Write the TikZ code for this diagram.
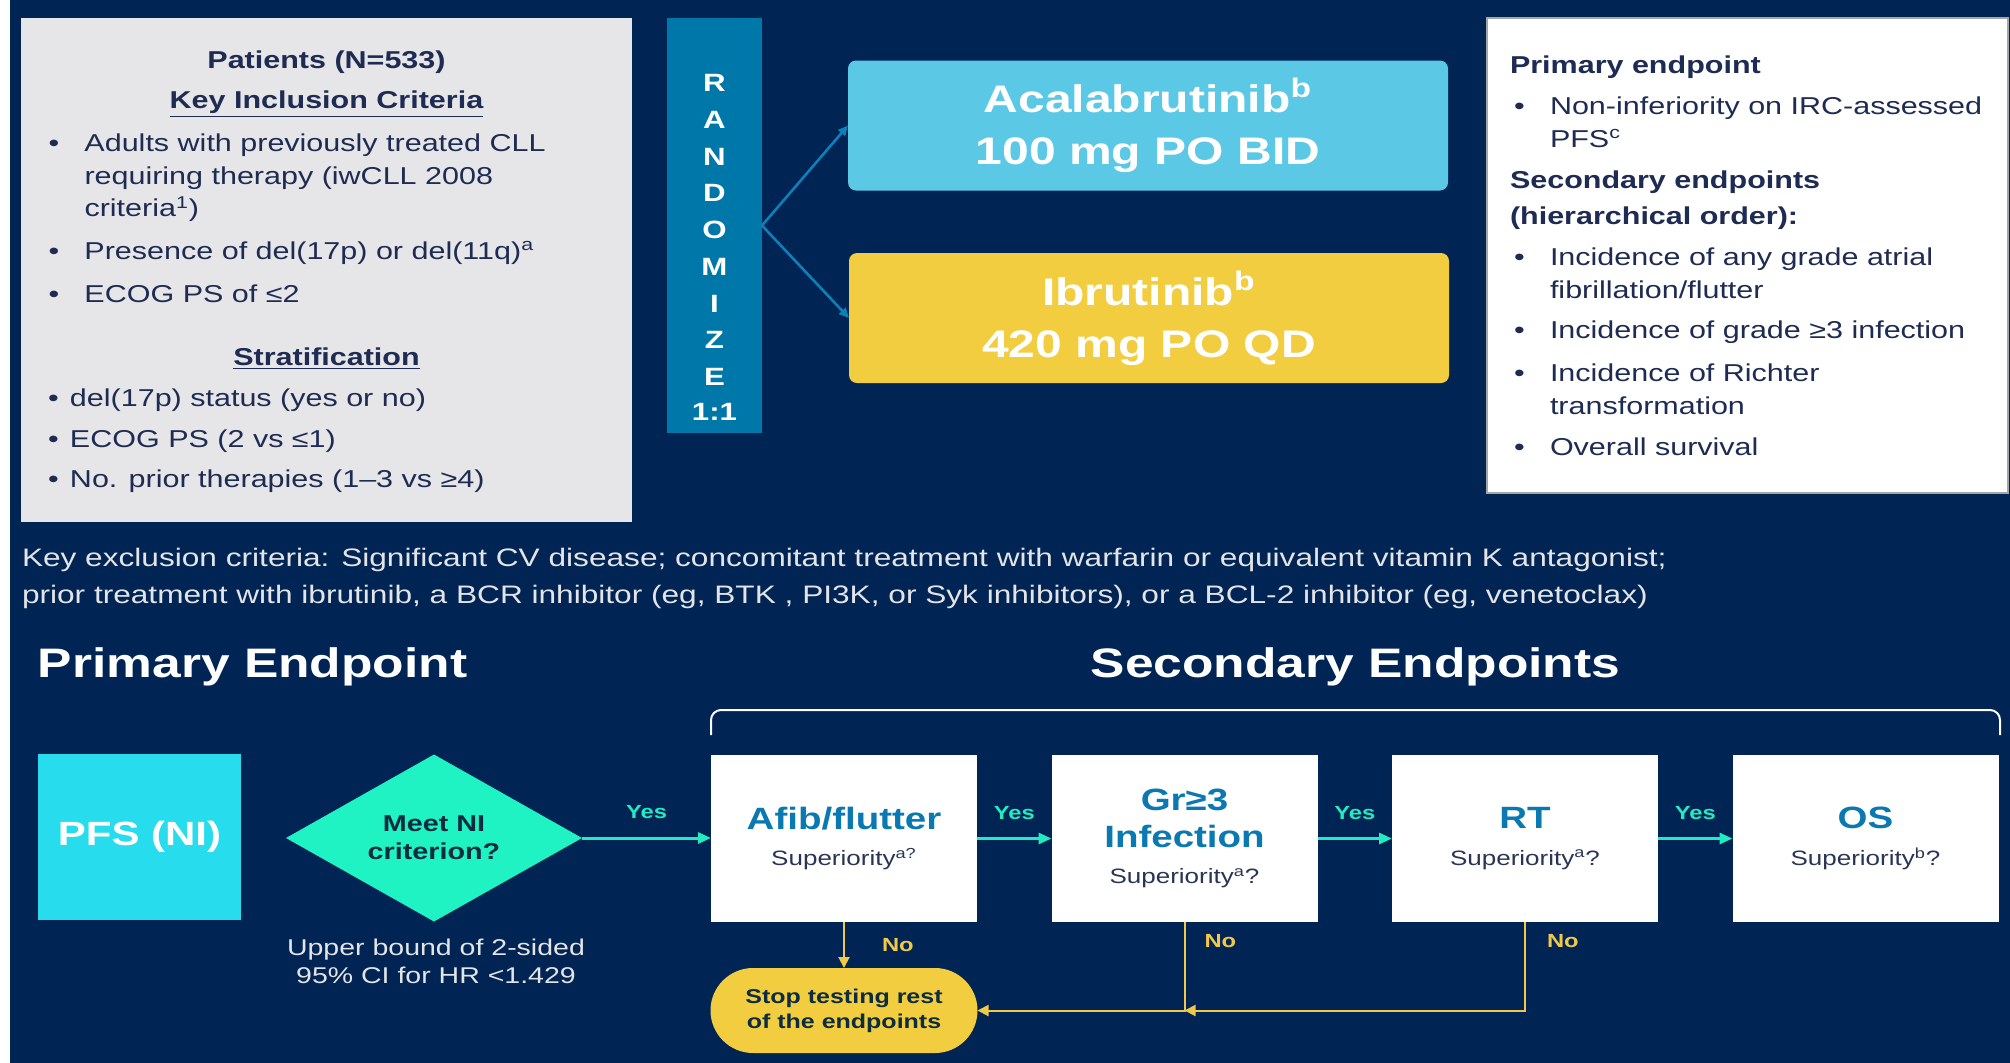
\documentclass[tikz,border=0pt]{standalone}
\usepackage{fontspec}
\setmainfont{Liberation Sans}[FakeStretch=1.25]
\usepackage{tikz}
\usetikzlibrary{positioning, arrows.meta, shapes.geometric, shapes.misc}
\usepackage{xcolor}
\definecolor{slidebg}{HTML}{002453}
\definecolor{boxgray}{HTML}{E6E5E7}
\definecolor{inktxt}{HTML}{1E2B52}
\definecolor{randblue}{HTML}{0077A9}
\definecolor{randarrowc}{HTML}{0C80B8}
\definecolor{acalablue}{HTML}{5BC8E6}
\definecolor{ibryellow}{HTML}{F2CD3F}
\definecolor{pfscyan}{HTML}{27DCEC}
\definecolor{nigreen}{HTML}{1FF3C3}
\definecolor{yesgreen}{HTML}{22EBC2}
\definecolor{noyellow}{HTML}{F0C94B}
\definecolor{eptblue}{HTML}{0A78B1}
\definecolor{epsubtxt}{HTML}{2A3556}
\definecolor{darkink}{HTML}{0C2C40}
\definecolor{excltxt}{HTML}{E4E4E6}

\newcommand{\bulx}[1]{\makebox[#1][l]{\textbullet}}
\newcommand{\indx}[1]{\hspace*{#1}}
\newcommand{\eptitle}{\bfseries\fontsize{15.4}{18.3}\selectfont\color{eptblue}}
\newcommand{\epsub}{\fontsize{10.4}{12}\selectfont\color{epsubtxt}}

\begin{document}
\begin{tikzpicture}[x=0.5pt, y=-0.5pt, node distance=37.25pt,
  every node/.style={inner sep=0pt, outer sep=0pt},
  listtxt/.style={font=\fontsize{12.2}{16.3}\selectfont, text=inktxt, align=left, anchor=west},
  listhead/.style={font=\bfseries\fontsize{12.2}{16.3}\selectfont, text=inktxt, align=left},
  randletter/.style={font=\bfseries\fontsize{12.5}{14}\selectfont, text=white},
  armbox/.style={rounded corners=4pt, minimum width=300pt, minimum height=65pt, align=center,
    text=white, font=\bfseries\fontsize{19.2}{26}\selectfont},
  randarrow/.style={draw=randarrowc, line width=1.3pt, -{Triangle[length=5pt,width=4.5pt]}},
  bigtitle/.style={font=\bfseries\fontsize{20.6}{24}\selectfont, text=white},
  epbox/.style={fill=white, minimum width=133pt, minimum height=83.5pt, align=center,
    font=\fontsize{15.4}{18.3}\selectfont},
  yesarrow/.style={draw=yesgreen, line width=1.5pt, -{Triangle[length=6.5pt,width=5.5pt]}},
  noarrow/.style={draw=noyellow, line width=1pt, -{Triangle[length=5.5pt,width=5.5pt]}},
  yeslbl/.style={font=\bfseries\fontsize{9.5}{11}\selectfont, text=yesgreen},
  nolbl/.style={font=\bfseries\fontsize{9.5}{11}\selectfont, text=noyellow}
]
  \useasboundingbox (0,0) rectangle (2010,1062);
  \fill[slidebg] (0,-10) rectangle (2020,1075);
  \fill[white] (-10,-10) rectangle (10,1075);

  % Patients
  \node[fill=boxgray, minimum width=305.5pt, minimum height=252pt] (patients) at (326.5,270) {};
  \node[listhead] (pttitle) at (326.5,62) {Patients (N=533)};
  \node[listhead] (inchead) at (326.5,104) {\underline{Key Inclusion Criteria}};
  \node[listtxt] (inc1) at (48.5,178) {\bulx{18pt}Adults with previously treated CLL\\
    \indx{18pt}requiring therapy (iwCLL 2008\\\indx{18pt}criteria\textsuperscript{1})};
  \node[listtxt] (inc2) at (48.5,253) {\bulx{18pt}Presence of del(17p) or del(11q)\textsuperscript{a}};
  \node[listtxt] (inc3) at (48.5,294) {\bulx{18pt}ECOG PS of ≤2};
  \node[listhead] (strhead) at (326.5,359) {\underline{Stratification}};
  \node[listtxt] (str1) at (48,400) {\bulx{11pt}del(17p) status (yes or no)};
  \node[listtxt] (str2) at (48,441) {\bulx{11pt}ECOG PS (2 vs ≤1)};
  \node[listtxt] (str3) at (48,481) {\bulx{11pt}No. prior therapies (1–3 vs ≥4)};

  % Randomize
  \node[fill=randblue, minimum width=47.5pt, minimum height=207.5pt] (rand) at (714.5,225.5) {};
  \foreach \ch [count=\i from 0] in {R,A,N,D,O,M,I,Z,E}
    \node[randletter] (let\i) at (714.5,{83+36.75*\i}) {\ch};
  \node[randletter] (ratio) at (714.5,412) {1:1};

  % Arms
  \node[armbox, fill=acalablue] (acala) at (1148,125.5) {Acalabrutinib\textsuperscript{b}\\100 mg PO BID};
  \node[armbox, fill=ibryellow] (ibru) at (1149,318) {Ibrutinib\textsuperscript{b}\\420 mg PO QD};
  \draw[randarrow] (rand.east) -- (acala.west);
  \draw[randarrow] (rand.east) -- (ibru.west);

  % Endpoints list
  \node[fill=white, draw=gray!70, line width=0.6pt, minimum width=260.5pt, minimum height=237.5pt]
    (endpts) at (1747.5,255.5) {};
  \node[listhead, anchor=west] (primhead) at (1510,67) {Primary endpoint};
  \node[listtxt] (prim1) at (1514,122) {\bulx{18pt}Non-inferiority on IRC-assessed\\\indx{18pt}PFS\textsuperscript{c}};
  \node[listhead, anchor=west, font=\bfseries\fontsize{12.2}{18}\selectfont] (sechead) at (1510,200)
    {Secondary endpoints\\(hierarchical order):};
  \node[listtxt] (sec1) at (1514,273.5) {\bulx{18pt}Incidence of any grade atrial\\\indx{18pt}fibrillation/flutter};
  \node[listtxt] (sec2) at (1514,332) {\bulx{18pt}Incidence of grade ≥3 infection};
  \node[listtxt] (sec3) at (1514,389) {\bulx{18pt}Incidence of Richter\\\indx{18pt}transformation};
  \node[listtxt] (sec4) at (1514,447) {\bulx{18pt}Overall survival};

  % Exclusion
  \node[listtxt, text=excltxt, font=\fontsize{12.65}{18.5}\selectfont] (excl) at (22,578.5)
    {Key exclusion criteria: Significant CV disease; concomitant treatment with warfarin or equivalent vitamin K antagonist;\\
     prior treatment with ibrutinib, a BCR inhibitor (eg, BTK , PI3K, or Syk inhibitors), or a BCL-2 inhibitor (eg, venetoclax)};

  % Titles
  \node[bigtitle, anchor=west] (primtitle) at (38,667) {Primary Endpoint};
  \node[bigtitle] (sectitle) at (1355.5,667) {Secondary Endpoints};
  \draw[white, line width=1pt, rounded corners=5pt] (711,735) -- (711,710) -- (2000,710) -- (2000,735);

  % Flow
  \node[fill=pfscyan, minimum width=101.5pt, minimum height=83pt, text=white,
    font=\bfseries\fontsize{16.8}{20}\selectfont] (pfs) at (139.5,837) {PFS (NI)};
  \node[diamond, aspect=1.8, fill=nigreen, minimum width=148pt, minimum height=83.5pt, align=center,
    text=darkink, font=\bfseries\fontsize{11.5}{14}\selectfont] (ni) at (434,838) {Meet NI\\criterion?};
  \node[align=center, text=excltxt, font=\fontsize{11.4}{14}\selectfont] (hrnote) at (436,961)
    {Upper bound of 2-sided\\95\% CI for HR <1.429};
  \node[epbox] (afib) at (844,838.5) {{\eptitle Afib/flutter}\\{\epsub Superiority\textsuperscript{a?}}};
  \node[epbox, right=of afib] (gr) {{\eptitle Gr≥3}\\{\eptitle Infection}\\{\epsub Superiority\textsuperscript{a}?}};
  \node[epbox, right=of gr] (rt) {{\eptitle RT}\\{\epsub Superiority\textsuperscript{a}?}};
  \node[epbox, right=of rt] (os) {{\eptitle OS}\\{\epsub Superiority\textsuperscript{b}?}};
  \node[rounded rectangle, fill=ibryellow, minimum width=133.5pt, minimum height=42.5pt, align=center,
    text=darkink, font=\bfseries\fontsize{10}{12.5}\selectfont, below=23pt of afib] (stop)
    {Stop testing rest\\of the endpoints};
  \coordinate (junc) at (gr.south |- stop.east);

  \draw[yesarrow] (ni.east) -- node[yeslbl, above=9.5pt] (yes1) {Yes} (afib.west |- ni.east);
  \draw[yesarrow] (afib) -- node[yeslbl, above=9.5pt] (yes2) {Yes} (gr);
  \draw[yesarrow] (gr) -- node[yeslbl, above=9.5pt] (yes3) {Yes} (rt);
  \draw[yesarrow] (rt) -- node[yeslbl, above=9.5pt] (yes4) {Yes} (os);
  \draw[noarrow] (afib) -- node[nolbl, right=19pt] (no1) {No} (stop);
  \draw[noarrow] (gr.south) |- node[nolbl, right=10pt, pos=0.11] (no2) {No} (stop.east);
  \draw[noarrow] (rt.south) |- node[nolbl, right=11pt, pos=0.11] (no3) {No} (junc);
\end{tikzpicture}
\end{document}
